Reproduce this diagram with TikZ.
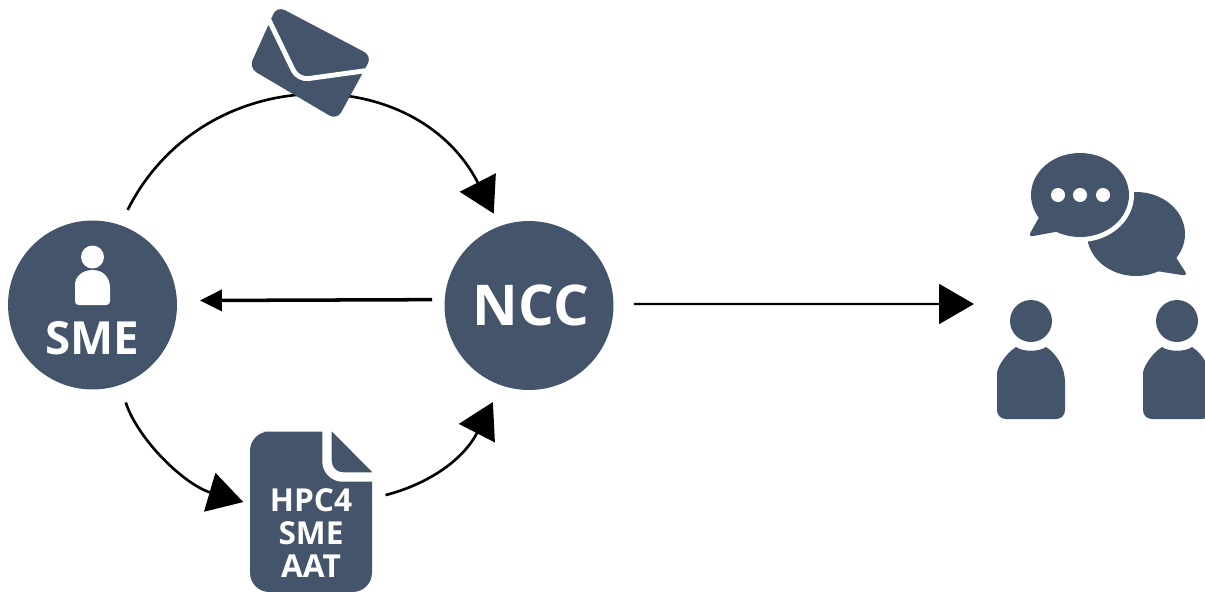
\documentclass[tikz,border=0pt]{standalone}
\usepackage{fontspec}
\setmainfont{Open Sans}
\usetikzlibrary{arrows.meta}
\definecolor{slateblue}{HTML}{44546A}
\begin{document}
\begin{tikzpicture}[x=0.02cm,y=-0.02cm]
		\begin{scope}
		
		\tikzstyle{hubcircle}=[circle,
		fill=slateblue,
		text=white,
		inner sep=0pt,
		outer sep=0pt,
		minimum size=3.38cm,
		font=\bfseries
		]
		\tikzstyle{iconbox}=[rectangle,
		inner sep=0pt,
		outer sep=0pt
		]
		\tikzstyle{icon}=[fill=slateblue,draw=none]
		\tikzstyle{flow}=[black,line width=1.5pt,-{Triangle[length=0.7cm,width=0.8cm]}]
		
		\clip (0,0) rectangle (1205,592);
		
		\coordinate (pcrowd) at (974,304);
		
		\node[hubcircle] (sme) at (92.5,305) {};
		\node[hubcircle] (ncc) at (529,305.5) {};
		\node[text=white,font=\bfseries\fontsize{32}{36}\selectfont,inner sep=0pt] (ncctext) at (531,305) {NCC};
		\node[iconbox,minimum width=2.44cm,minimum height=3.22cm] (doc) at (311,511.5) {};
		\node[iconbox,minimum width=2.44cm,minimum height=2.2cm] (mail) at (311,63) {};
		
		% arcs go first, the envelope covers the top one
		\draw[flow,shorten <=0.34cm,shorten >=0.28cm] (sme.71.5) .. controls (203,60) and (415,60) .. (ncc.110.2);
		\draw[flow,shorten <=0.37cm,shorten >=0.14cm] (sme.-71.6) .. controls (138,440) and (185,485) .. (doc.173);
		\draw[flow,shorten <=0.28cm,shorten >=0.376cm] (doc.12) .. controls (425,485) and (462,462) .. (ncc.-109.2);
		\draw[black,line width=2pt,-{Triangle[length=0.44cm,width=0.42cm]},shorten <=0.25cm,shorten >=0.46cm] (ncc.176) -- (sme.3);
		\draw[flow,line width=1.2pt,shorten <=0.41cm] (ncc.1) -- (pcrowd);
		
		% SME icon
		\fill[white] (92.5,257) circle (11.5);
		\fill[white,rounded corners=2pt] (75,305) -- (75,288) [sharp corners] .. controls (75,277) and (82,270) .. (92.5,270) .. controls (103,270) and (110,277) .. (110,288) [rounded corners=2pt] -- (110,305) -- cycle;
		\node[text=white,font=\bfseries\fontsize{26}{30}\selectfont,inner sep=0pt] (smetext) at (92,338) {SME};
		
		% envelope
		\fill[white] (262,40) -- (278,3) -- (378,55) -- (368,82) -- (300,90) -- cycle;
		\fill[icon,rounded corners=5pt] (277,6) -- (372,56) -- (337,120) -- (249,68) -- cycle;
		\draw[white,line width=2.8pt,rounded corners=6pt] (267,16) -- (298,80) -- (378,69);
		
		% document
		\fill[icon] (262,431.5) -- (332,431.5) -- (372,472) -- (372,572) [rounded corners=11pt] -- (372,592) -- (250,592) -- (250,431.5) [sharp corners] -- cycle;
		\draw[white,line width=5.4pt,rounded corners=9pt] (327,425) -- (327,477) -- (378,477);
		\node[text=white,font=\bfseries\fontsize{18}{18.7}\selectfont,align=center,inner sep=0pt] (doctext) at (311,533) {HPC4\\SME\\AAT};
		
		% chat bubbles
		\fill[icon] (1136,234) ellipse (49 and 42);
		\fill[icon,rounded corners=3pt] (1168,245) -- (1188,276) -- (1150,270) -- cycle;
		\fill[white] (1080,195) ellipse (54 and 47);
		\fill[icon] (1080,195) ellipse (49 and 42);
		\fill[icon,rounded corners=3pt] (1042,212) -- (1028,237) -- (1066,230) -- cycle;
		\foreach \dx in {1058,1080,1103}{
			\fill[white] (\dx,195) circle (7);
		}
		
		% two persons
		\foreach \cx in {1031,1177}{
			\fill[icon] (\cx,321) circle (21);
			\fill[icon] (\cx-15,347) .. controls (\cx-8,352) and (\cx+8,352) .. (\cx+15,347) .. controls (\cx+26,354) and (\cx+34,368) .. (\cx+34,382) [rounded corners=5pt] -- (\cx+34,419) -- (\cx-34,419) -- (\cx-34,382) [sharp corners] .. controls (\cx-34,368) and (\cx-26,354) .. (\cx-15,347) -- cycle;
		}
		
		\end{scope}
\end{tikzpicture}
\end{document}
